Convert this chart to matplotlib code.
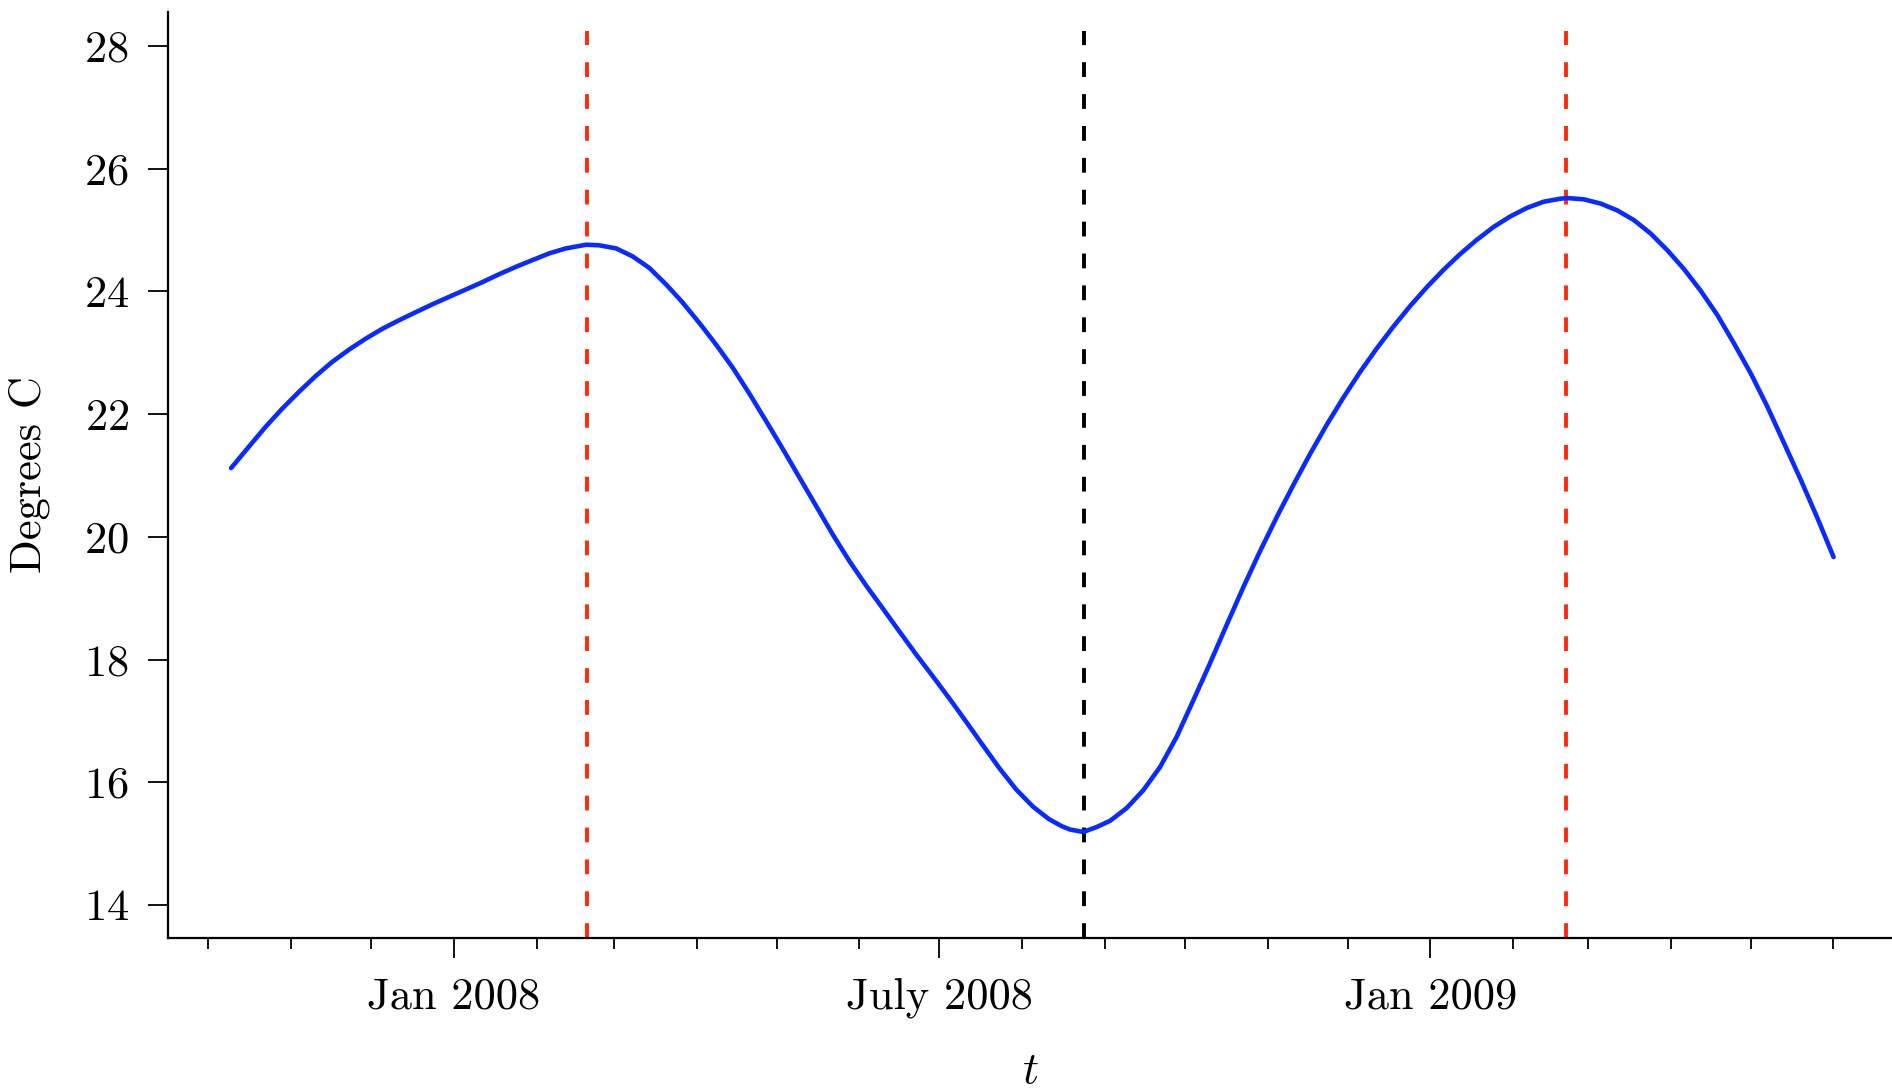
import pandas as pd
import numpy as np
import matplotlib
matplotlib.use("Agg")
import matplotlib.pyplot as plt
import matplotlib.dates as mdates

plt.rcParams['font.family'] = 'serif'
plt.rcParams['font.serif'] = ['cmr10']
plt.rcParams['mathtext.fontset'] = 'cm'
plt.rcParams['axes.unicode_minus'] = False
plt.rcParams['axes.formatter.use_mathtext'] = True

# smoothed temperature, days counted from 1 Jan 2008
t0 = '2008-01-01'
days = [-83.5, -76.8, -70.6, -64.3, -58.1, -51.8, -45.6, -39.3, -33.0, -26.8,
        -20.5, -14.3, -8.0, -1.8, 4.5, 10.7, 17.0, 23.3, 29.5, 35.8,
        42.0, 49.6, 54.5, 60.8, 67.0, 73.3, 79.6, 85.5, 92.1, 98.3,
        104.6, 110.8, 117.1, 123.3, 129.6, 135.8, 142.1, 148.3, 154.6, 160.8,
        167.1, 173.3, 179.6, 185.8, 192.1, 198.3, 204.6, 210.8, 217.1, 223.0,
        228.0, 230.9, 235.9, 240.9, 245.9, 252.2, 258.4, 264.7, 270.9, 277.2,
        283.4, 289.7, 295.9, 302.2, 308.4, 314.7, 320.9, 327.2, 333.4, 339.7,
        345.9, 352.2, 358.4, 364.7, 370.9, 377.2, 383.4, 389.7, 395.9, 402.2,
        408.4, 414.7, 417.3, 423.5, 429.8, 436.0, 442.3, 448.6, 454.8, 461.1,
        467.3, 473.6, 479.8, 486.1, 492.3, 498.6, 504.9, 511.1, 517.1]
temps = [21.12, 21.47, 21.79, 22.09, 22.36, 22.62, 22.85, 23.05, 23.23, 23.39,
         23.53, 23.66, 23.79, 23.91, 24.03, 24.15, 24.28, 24.40, 24.51, 24.62,
         24.70, 24.76, 24.75, 24.70, 24.57, 24.38, 24.11, 23.83, 23.48, 23.13,
         22.75, 22.33, 21.88, 21.43, 20.96, 20.50, 20.03, 19.60, 19.20, 18.83,
         18.45, 18.08, 17.72, 17.36, 16.98, 16.60, 16.22, 15.88, 15.60, 15.40,
         15.28, 15.23, 15.19, 15.27, 15.37, 15.58, 15.87, 16.25, 16.74, 17.34,
         17.94, 18.57, 19.18, 19.77, 20.32, 20.85, 21.35, 21.83, 22.27, 22.69,
         23.07, 23.43, 23.76, 24.07, 24.35, 24.61, 24.84, 25.05, 25.22, 25.36,
         25.46, 25.51, 25.52, 25.50, 25.43, 25.32, 25.16, 24.94, 24.67, 24.36,
         24.01, 23.61, 23.15, 22.66, 22.12, 21.52, 20.92, 20.30, 19.67]

# peaks and trough
peak_dates = ['2008-02-20', '2009-02-21']
trough_dates = ['2008-08-24']

tick_dates = ['2008-01-01', '2008-07-01', '2009-01-01']
tick_labels = ['Jan 2008', 'July 2008', 'Jan 2009']
yticks = [14, 16, 18, 20, 22, 24, 26, 28]

dates = pd.Timestamp(t0) + pd.to_timedelta(days, unit='D')

fig = plt.figure(figsize=(9.46, 5.44), dpi=200)
ax = fig.add_axes([0.089, 0.1376, 0.911, 0.8518])

ylo, yhi = 13.457, 28.56
line_top = 28.25

ax.plot(dates, temps, color='#0a2bff', lw=1.65, zorder=3,
        solid_joinstyle='round', solid_capstyle='round')
for d in peak_dates:
    ax.plot([pd.Timestamp(d)] * 2, [ylo, line_top], color='#ff2a0a', lw=1.4,
            dashes=(3.8, 4.4), zorder=2)
for d in trough_dates:
    ax.plot([pd.Timestamp(d)] * 2, [ylo, line_top], color='black', lw=1.4,
            dashes=(3.8, 4.4), zorder=2)

ax.set_xlim(pd.Timestamp('2007-09-16'), pd.Timestamp('2009-06-23'))
ax.set_ylim(ylo, yhi)

ax.set_xticks(pd.to_datetime(tick_dates))
ax.set_xticklabels(tick_labels)
ax.xaxis.set_minor_locator(mdates.MonthLocator())
ax.set_yticks(yticks)

ax.spines['top'].set_visible(False)
ax.spines['right'].set_visible(False)
for s in ['left', 'bottom']:
    ax.spines[s].set_linewidth(0.8)

ax.tick_params(which='major', direction='out', length=7.2, width=0.65,
               labelsize=16, pad=7)
ax.tick_params(which='minor', direction='out', length=3.8, width=0.65)

ax.set_xlabel('$t$', fontsize=16, labelpad=12)
ax.set_ylabel('Degrees C', fontsize=16, labelpad=12)

fig.savefig('out.png', dpi=200)
